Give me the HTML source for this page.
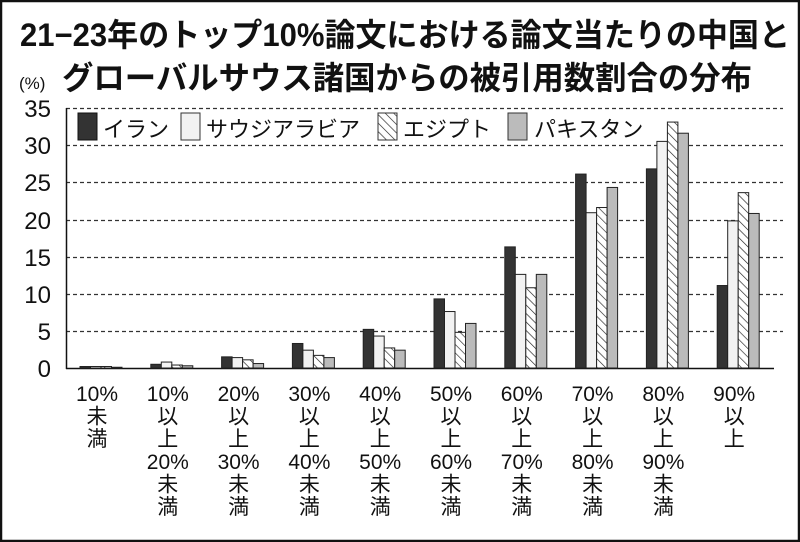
<!DOCTYPE html>
<html><head><meta charset="utf-8"><style>
html,body{margin:0;padding:0;background:#fff}
svg{display:block}
text{font-family:"Liberation Sans","Noto Sans CJK JP",sans-serif;fill:#111}
</style></head><body>
<svg width="800" height="542" viewBox="0 0 800 542" xmlns="http://www.w3.org/2000/svg">
<defs>
<pattern id="eg" patternUnits="userSpaceOnUse" width="6" height="6" patternTransform="rotate(-45)">
<rect width="6" height="6" fill="#fff"/><line x1="0" y1="0" x2="0" y2="6" stroke="#222" stroke-width="1.3"/>
</pattern>
</defs>
<rect x="1" y="1" width="798" height="540" fill="#fff" stroke="#111" stroke-width="2.5"/>
<text x="20" y="46" font-size="32" font-weight="bold" textLength="770" lengthAdjust="spacingAndGlyphs">21−23年のトップ10%論文における論文当たりの中国と</text>
<text x="62" y="89" font-size="32" font-weight="bold" textLength="690" lengthAdjust="spacingAndGlyphs">グローバルサウス諸国からの被引用数割合の分布</text>
<text x="19" y="89" font-size="17">(%)</text>
<g stroke="#333" stroke-width="1.2" stroke-dasharray="4,3">
<line x1="66" y1="108.5" x2="783" y2="108.5"/>
<line x1="66" y1="145.5" x2="783" y2="145.5"/>
<line x1="66" y1="182.5" x2="783" y2="182.5"/>
<line x1="66" y1="220.5" x2="783" y2="220.5"/>
<line x1="66" y1="257.5" x2="783" y2="257.5"/>
<line x1="66" y1="294.5" x2="783" y2="294.5"/>
<line x1="66" y1="331.5" x2="783" y2="331.5"/>
</g>
<line x1="66.5" y1="108" x2="66.5" y2="369" stroke="#111" stroke-width="1.5"/>
<line x1="66" y1="368.5" x2="774" y2="368.5" stroke="#111" stroke-width="1.5"/>
<g font-size="24" text-anchor="end">
<text x="51" y="377">0</text><text x="51" y="340">5</text><text x="51" y="303">10</text>
<text x="51" y="266">15</text><text x="51" y="229">20</text><text x="51" y="191">25</text>
<text x="51" y="154">30</text><text x="51" y="117">35</text>
</g>
<g id="bars" stroke="#222" stroke-width="1"></g>
<g font-size="22">
<rect x="78" y="113" width="19" height="27" fill="#333" stroke="#111"/>
<text x="103" y="137">イラン</text>
<rect x="181" y="113" width="19" height="27" fill="#f2f2f2" stroke="#333"/>
<text x="206" y="137">サウジアラビア</text>
<rect x="378" y="113" width="19" height="27" fill="url(#eg)" stroke="#333"/>
<text x="403" y="137">エジプト</text>
<rect x="508" y="113" width="19" height="27" fill="#bbb" stroke="#333"/>
<text x="534" y="137">パキスタン</text>
</g>
<g id="labels" font-size="21" text-anchor="middle"></g>
</svg>
<script>
var d=[[0.2,0.2,0.2,0.1],[0.5,0.8,0.4,0.3],[1.5,1.4,1.1,0.6],[3.3,2.4,1.7,1.4],[5.2,4.3,2.7,2.4],[9.3,7.6,4.8,6.0],[16.3,12.6,10.8,12.6],[26.1,20.9,21.6,24.3],[26.8,30.5,33.1,31.6],[11.1,19.8,23.6,20.8]];
var fills=["#333","#f2f2f2","url(#eg)","#bbb"];
var ns="http://www.w3.org/2000/svg",g=document.getElementById("bars"),L=document.getElementById("labels");
var labs=[["10%","未","満"],["10%","以","上","20%","未","満"],["20%","以","上","30%","未","満"],["30%","以","上","40%","未","満"],["40%","以","上","50%","未","満"],["50%","以","上","60%","未","満"],["60%","以","上","70%","未","満"],["70%","以","上","80%","未","満"],["80%","以","上","90%","未","満"],["90%","以","上"]];
for(var i=0;i<10;i++){var x0=80+70.8*i;
for(var j=0;j<4;j++){var h=d[i][j]*7.43;var r=document.createElementNS(ns,"rect");
r.setAttribute("x",x0+j*10.5);r.setAttribute("y",368-h);r.setAttribute("width",10.5);r.setAttribute("height",h);r.setAttribute("fill",fills[j]);g.appendChild(r);}
for(var k=0;k<labs[i].length;k++){var t=document.createElementNS(ns,"text");t.setAttribute("x",x0+17);t.setAttribute("y",401+k*22.6);t.textContent=labs[i][k];L.appendChild(t);}
}
</script>
</body></html>
